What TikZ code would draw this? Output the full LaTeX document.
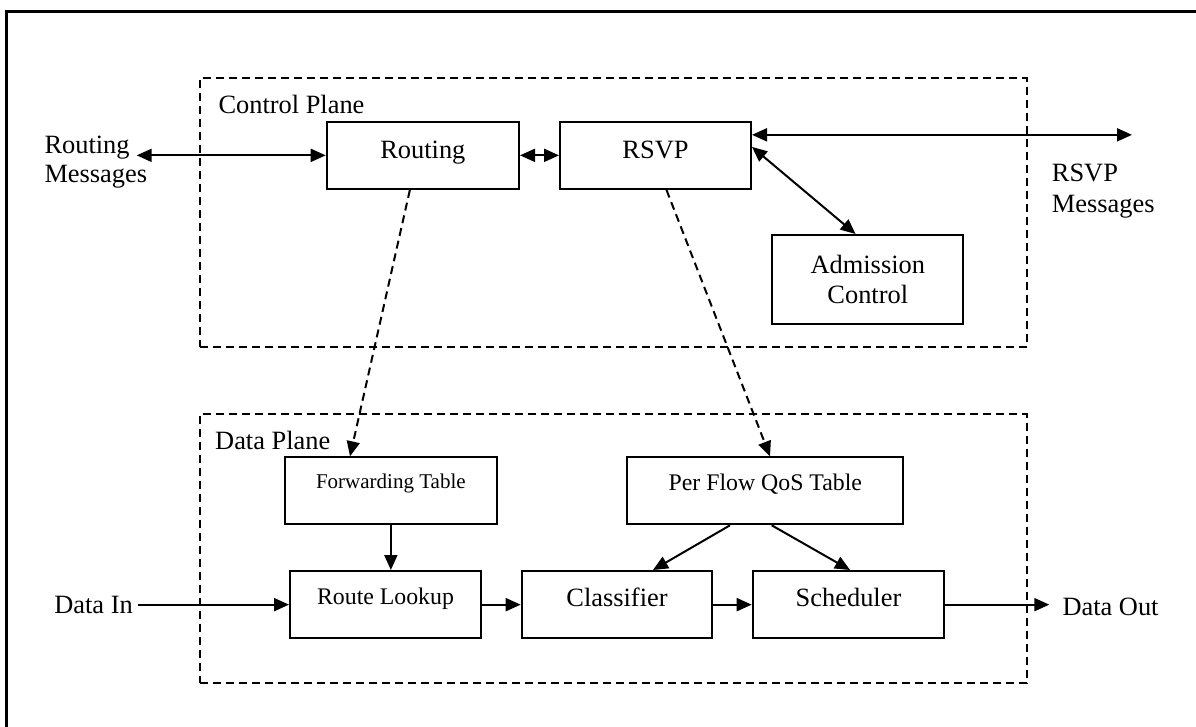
\documentclass[tikz,border=0pt]{standalone}
\usepackage{fontspec}
\setmainfont{Liberation Serif}
\usetikzlibrary{arrows.meta, positioning, calc}
\tikzset{
  txt/.style={font=\fontsize{26.4}{29.4}\selectfont, inner sep=0pt},
  box/.style={draw, line width=2pt, inner sep=0pt,
              font=\fontsize{26.4}{29.4}\selectfont},
  tbox/.style 2 args={box, text height=#1, text depth=#2},
  plane/.style={draw, line width=2pt, dash pattern=on 8pt off 5pt,
                inner sep=0pt},
  arrow/.style={-{Triangle[length=15pt, width=13pt]}, line width=2pt},
  biarrow/.style={{Triangle[length=15pt, width=13pt]}-{Triangle[length=15pt, width=13pt]},
                  line width=2pt},
  dasharrow/.style={arrow, dash pattern=on 8pt off 5pt},
}
\begin{document}
\begin{tikzpicture}[x=1pt, y=-1pt]
  \useasboundingbox (0,0) rectangle (1196,727);

  %% Outer frame (left and top edges only)
  \draw[line width=3pt] (6.7,740) -- (6.7,12) -- (1210,12);

  %% Planes
  \node[plane, minimum width=827pt, minimum height=268.4pt] (ctrl) at (613.5,212.5) {};
  \node[txt, anchor=base west] (ctrltxt) at (218.3,113.3) {Control Plane};
  \node[plane, minimum width=826.7pt, minimum height=269pt] (data) at (613.35,548.5) {};
  \node[txt, anchor=base west] (datatxt) at (215,449.3) {Data Plane};

  %% Control plane boxes
  \node[tbox={36.6pt}{30.7pt}, minimum width=192.3pt] (routing) at (422.85,155.35) {Routing};
  \node[tbox={36.6pt}{30.7pt}, minimum width=191pt] (rsvp) at (655.5,155.35) {RSVP};
  \node[box, align=center, minimum width=191pt, minimum height=89.3pt,
        font=\fontsize{26.4}{30.3}\selectfont] (admission) at (867.8,279.65) {Admission\\Control};

  %% Data plane boxes
  \node[tbox={31pt}{36pt}, minimum width=211.7pt,
        font=\fontsize{21}{24}\selectfont] (fwdtable) at (390.85,490.8) {Forwarding Table};
  \node[tbox={32.7pt}{34.3pt}, minimum width=276pt,
        font=\fontsize{23.8}{27}\selectfont] (qostable) at (765.3,490.8) {Per Flow QoS Table};
  \node[tbox={33pt}{34.3pt}, minimum width=191pt,
        font=\fontsize{23.8}{27}\selectfont] (lookup) at (385.5,604.65) {Route Lookup};
  \node[tbox={35.7pt}{31.6pt}, minimum width=190.6pt] (classifier) at (617,604.65) {Classifier};
  \node[tbox={35.7pt}{31.6pt}, minimum width=191.6pt] (scheduler) at (848.5,604.65) {Scheduler};

  %% Outside labels
  \node[txt, align=left, anchor=west] (routmsg) at (44.3,161.9) {Routing\\Messages};
  \coordinate (routtip) at (136.7,155.35);
  \node[txt, align=left, anchor=west,
        font=\fontsize{26.4}{31}\selectfont] (rsvpmsg) at (1051.7,191) {RSVP\\Messages};
  \coordinate (rsvptip) at (1132,134.3);
  \node[txt, anchor=base east, inner xsep=5pt] (datain) at (138,613.5) {Data In};
  \node[txt, anchor=base west, inner xsep=13pt] (dataout) at (1049.3,615) {Data Out};

  %% Control connectors
  \draw[biarrow] (routtip) -- (routing.west);
  \draw[biarrow] (routing.east) -- (rsvp.west);
  \draw[biarrow] (rsvp.12.5) -- (rsvp.12.5 -| rsvptip);
  \draw[biarrow] (rsvp.5) -- (admission.105);

  %% Control to data
  \draw[dasharrow] ([xshift=-13pt]routing.south) -- ([xshift=-40.85pt]fwdtable.north);
  \draw[dasharrow] ([xshift=11pt]rsvp.south) -- ([xshift=4.7pt]qostable.north);

  %% Data path
  \draw[arrow] (fwdtable.south) -- (fwdtable.south |- lookup.north);
  \draw[arrow] ([xshift=-35.3pt]qostable.south) -- ([xshift=36pt]classifier.north);
  \draw[arrow] ([xshift=6.4pt]qostable.south) -- ([xshift=1.5pt]scheduler.north);
  \draw[arrow] (lookup.west -| datain.east) -- (lookup.west);
  \draw[arrow] (lookup.east) -- (classifier.west);
  \draw[arrow] (classifier.east) -- (scheduler.west);
  \draw[arrow] (scheduler.east) -- (scheduler.east -| dataout.west);

\end{tikzpicture}
\end{document}
